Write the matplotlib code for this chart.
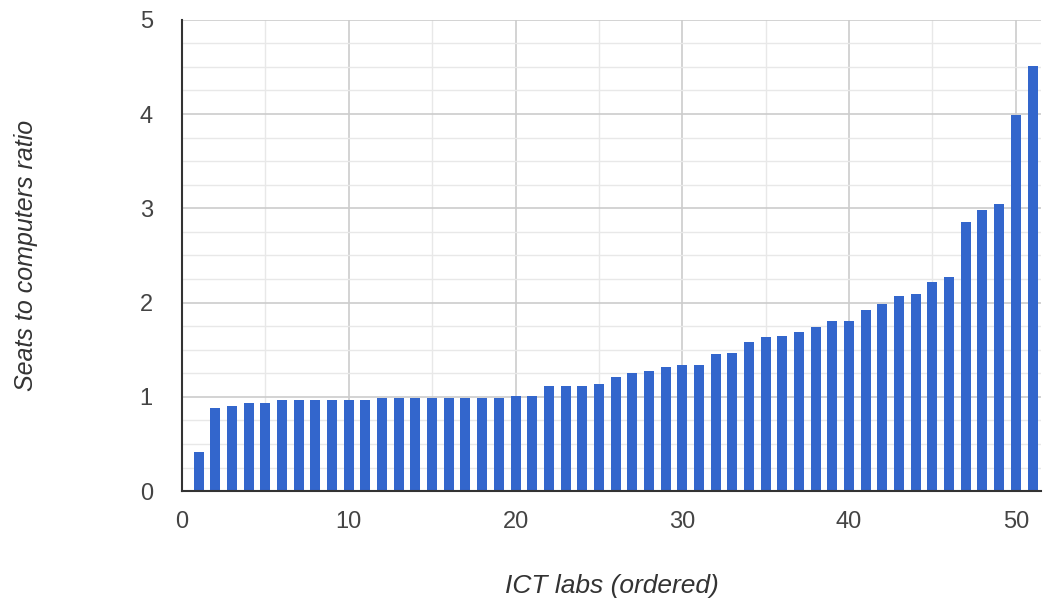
import numpy as np
import matplotlib
matplotlib.use("Agg")
import matplotlib.pyplot as plt
from matplotlib.ticker import MultipleLocator

plt.rcParams["font.family"] = ["Liberation Sans", "DejaVu Sans"]

# labs ordered by seats-to-computers ratio
labs = np.arange(1, 52)
ratios = [0.42, 0.88, 0.90, 0.94, 0.94,
          0.97, 0.97, 0.97, 0.97, 0.97, 0.97,
          0.99, 0.99, 0.99, 0.99, 0.99, 0.99, 0.99, 0.99,
          1.01, 1.01,
          1.12, 1.12, 1.12, 1.14, 1.21, 1.25, 1.27, 1.32, 1.34, 1.34,
          1.45, 1.47, 1.58, 1.63, 1.65, 1.69, 1.74, 1.81, 1.81, 1.92,
          1.99, 2.07, 2.09, 2.22, 2.27, 2.85, 2.98, 3.05, 3.99, 4.51]

x_ticks = [0, 10, 20, 30, 40, 50]
y_ticks = [0, 1, 2, 3, 4, 5]

fig = plt.figure(figsize=(10.44, 5.99), dpi=100)
ax = fig.add_axes([0.1743, 0.180, 0.8227, 0.787])

ax.bar(labs, ratios, width=0.6, color="#3366cc", zorder=3)

ax.set_xlim(0, 51.5)
ax.set_ylim(0, 5)
ax.set_xticks(x_ticks)
ax.set_yticks(y_ticks)
ax.xaxis.set_minor_locator(MultipleLocator(5))
ax.yaxis.set_minor_locator(MultipleLocator(0.25))

ax.grid(which="major", color="#cccccc", linewidth=1.2, zorder=0)
ax.grid(which="minor", color="#e8e8e8", linewidth=1.0, zorder=0)

for side in ["top", "right"]:
    ax.spines[side].set_visible(False)
for side in ["left", "bottom"]:
    ax.spines[side].set_color("#333333")
    ax.spines[side].set_linewidth(1.5)
    ax.spines[side].set_zorder(4)

ax.tick_params(which="both", length=0, labelsize=17, labelcolor="#444444")
ax.tick_params(axis="y", pad=21)
ax.tick_params(axis="x", pad=14)

ax.set_xlabel("ICT labs (ordered)", fontsize=19, style="italic",
              color="#333333", labelpad=30)
ax.set_ylabel("Seats to computers ratio", fontsize=18, style="italic",
              color="#333333", labelpad=73)

fig.savefig("out.png", dpi=100)
